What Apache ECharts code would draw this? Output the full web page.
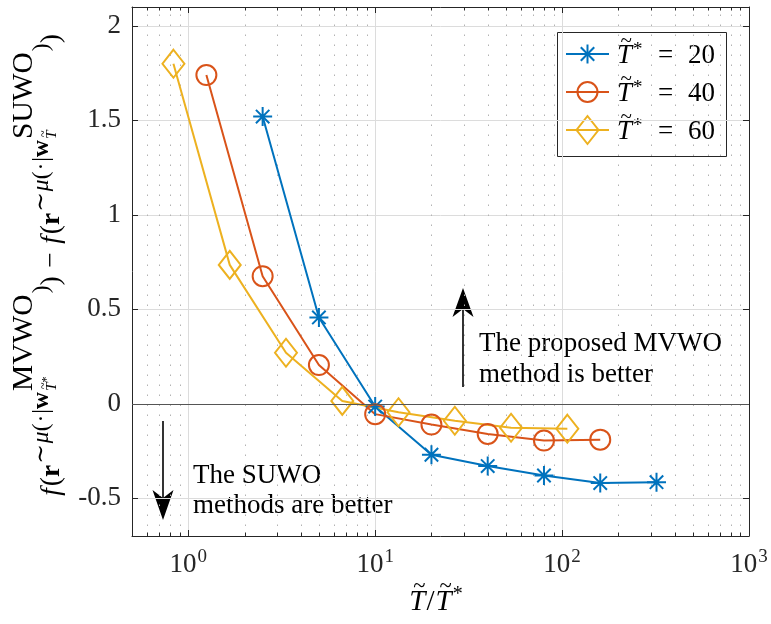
<!DOCTYPE html>
<html>
<head>
<meta charset="utf-8">
<script src="https://cdn.jsdelivr.net/npm/echarts@6/dist/echarts.min.js"></script>
<style>
  html, body { margin: 0; padding: 0; background: #fff; }
  #chart { width: 771px; height: 624px; }
</style>
</head>
<body>
<div id="chart"></div>
<script>
// Ratio T~/T~* on the x axis, f(MVWO) - f(SUWO) on the y axis, one list per T~*
const ratio20 = [2.5, 5, 10, 20, 40, 80, 160, 320];
const diff20  = [1.52, 0.457, -0.015, -0.27, -0.33, -0.38, -0.42, -0.415];
const ratio40 = [1.25, 2.5, 5, 10, 20, 40, 80, 160];
const diff40  = [1.74, 0.675, 0.205, -0.055, -0.11, -0.16, -0.195, -0.19];
const ratio60 = [0.833, 1.667, 3.333, 6.667, 13.33, 26.67, 53.33, 106.7];
const diff60  = [1.80, 0.735, 0.27, 0.015, -0.045, -0.09, -0.127, -0.132];
const legendValues = ['20', '40', '60'];

// axis ranges and tick layout
const X_MIN = 0.5, X_MAX = 1000;
const Y_MIN = -0.7, Y_MAX = 2.1;
const minorDecades = [0.1, 1, 10, 100];
const minorSteps = [2, 3, 4, 5, 6, 7, 8, 9];

const BLUE = '#0072BD', ORANGE = '#D95319', YELLOW = '#EDB120';
const AX = '#262626';
const SERIF = '"Liberation Serif","DejaVu Serif",serif';

const GRID = { left: 132, top: 7, right: 22, bottom: 88 };

// --- small text layout helper (math-like labels built from pieces) ---
const mctx = document.createElement('canvas').getContext('2d');
function fnt(sz, o) { o = o || {}; return (o.it ? 'italic ' : '') + (o.bold ? 'bold ' : '') + sz + 'px ' + SERIF; }
function tw(t, f) { mctx.font = f; return mctx.measureText(t).width; }
function Run(color) { this.pos = 0; this.els = []; this.color = color || '#000'; }
Run.prototype.put = function (t, sz, o) {
  o = o || {};
  const f = fnt(sz, o), w = tw(t, f);
  const x = (o.at != null ? o.at : this.pos) + (o.dx || 0);
  this.els.push({
    type: 'text', x: x, y: -(o.rise || 0) - 0.34 * sz,
    style: { text: t, font: f, fill: this.color, textAlign: 'left', textVerticalAlign: 'middle' }
  });
  this.pos = x + w;
  return { x: x, w: w };
};
Run.prototype.gap = function (px) { this.pos += px; return this; };
Run.prototype.tildeT = function (sz, rise, o) {
  o = o || {};
  const r = this.put('T', sz, { it: true, rise: rise || 0, at: o.at });
  const ts = sz * 0.78;
  this.els.push({
    type: 'text', x: r.x + r.w * 0.62, y: -((rise || 0) + 0.60 * sz) - 0.34 * ts,
    style: { text: '~', font: fnt(ts), fill: this.color, textAlign: 'center', textVerticalAlign: 'middle' }
  });
  return r;
};

// --- minor log ticks (2..9 per decade) inside the x range ---
const minorX = [];
minorDecades.forEach(function (d) {
  minorSteps.forEach(function (k) {
    const v = +(k * d).toPrecision(6);
    if (v > X_MIN && v < X_MAX) minorX.push([v, 0]);
  });
});

// marker shapes
const ASTERISK = 'path://M10,0L10,20M0,10L20,10M2.93,2.93L17.07,17.07M2.93,17.07L17.07,2.93';

function seriesOf(name, xs, ys, color, symbol, size) {
  return {
    type: 'line', name: name, xAxisIndex: 0, yAxisIndex: 0,
    data: xs.map(function (x, i) { return [x, ys[i]]; }),
    symbol: symbol, symbolSize: size, showAllSymbol: true,
    lineStyle: { color: color, width: 2 },
    itemStyle: { color: 'rgba(0,0,0,0)', borderColor: color, borderWidth: 2 },
    emphasis: { disabled: true }, silent: true, z: 3, clip: false
  };
}

// --- axis titles, legend and annotations ---
const graphics = [];

// x title: T~ / T~*
(function () {
  const r = new Run('#000');
  r.tildeT(29, 0); r.gap(1); r.put('/', 29); r.gap(1); r.tildeT(29, 0); r.gap(1); r.put('*', 20, { rise: 10 });
  graphics.push({ type: 'group', x: 436 - r.pos / 2, y: 612, children: r.els });
})();

// y title: f(r^{~mu(.|w^{MVWO}_{T~*})}) - f(r^{~mu(.|w^{SUWO}_{T~})})
(function () {
  const S = 27.5, s1 = 23.5, big = 29.5, sub = 15.5;
  const r1 = 11, r2 = 27, r3 = 4;
  const r = new Run('#000');
  function half(tag, star) {
    r.put('f', S, { it: true }); r.gap(2); r.put('(', S); r.put('r', S, { bold: true });
    r.gap(1);
    r.put('\u223C', s1, { rise: r1 }); r.gap(1); r.put('\u03BC', s1, { it: true, rise: r1 });
    r.put('(', s1, { rise: r1 }); r.gap(1); r.put('\u00B7', s1, { rise: r1 }); r.gap(1);
    r.put('|', s1, { rise: r1 }); r.put('w', s1, { bold: true, rise: r1 });
    const p0 = r.pos + 1;
    r.put(tag, big, { at: p0, rise: r2 });
    const p1 = r.pos;
    r.tildeT(sub, r3, { at: p0 });
    if (star) r.put('*', 12, { rise: r3 + 6 });
    r.pos = Math.max(p1, r.pos) + 1;
    r.put(')', s1, { rise: r1 }); r.put(')', S);
  }
  half('MVWO', true);
  r.gap(8.5); r.put('\u2212', S); r.gap(8.5);
  half('SUWO', false);
  graphics.push({ type: 'group', x: 61, y: 265 + r.pos / 2, rotation: Math.PI / 2, children: r.els });
})();

// legend
(function () {
  const items = [
    { color: BLUE, mark: 'star' }, { color: ORANGE, mark: 'circle' }, { color: YELLOW, mark: 'diamond' }
  ];
  const kids = [];
  kids.push({ type: 'rect', shape: { x: 557.5, y: 32.5, width: 169, height: 124 },
    style: { fill: '#fff', stroke: AX, lineWidth: 1 } });
  const rowY = [54, 92, 130];
  items.forEach(function (it, i) {
    const y = rowY[i], cx = 587.5;
    kids.push({ type: 'line', shape: { x1: 566, y1: y, x2: 609, y2: y }, style: { stroke: it.color, lineWidth: 2 } });
    if (it.mark === 'star') {
      const R = 9.5, d = R * 0.7071;
      [[0, -R, 0, R], [-R, 0, R, 0], [-d, -d, d, d], [-d, d, d, -d]].forEach(function (s) {
        kids.push({ type: 'line', shape: { x1: cx + s[0], y1: y + s[1], x2: cx + s[2], y2: y + s[3] },
          style: { stroke: it.color, lineWidth: 2 } });
      });
    } else if (it.mark === 'circle') {
      kids.push({ type: 'circle', shape: { cx: cx, cy: y, r: 10 }, style: { fill: 'none', stroke: it.color, lineWidth: 2 } });
    } else {
      kids.push({ type: 'polygon', shape: { points: [[cx, y - 14], [cx + 11, y], [cx, y + 14], [cx - 11, y]] },
        style: { fill: 'none', stroke: it.color, lineWidth: 2 } });
    }
    const r = new Run('#000');
    r.tildeT(27, 0); r.gap(1); r.put('*', 19, { rise: 9 });
    r.put('=', 27, { at: 41 }); r.put(legendValues[i], 27, { at: 71 });
    kids.push({ type: 'group', x: 617, y: y + 11, children: r.els });
  });
  graphics.push({ type: 'group', z: 100, children: kids });
})();

// annotations with arrows
(function () {
  function txt(t, x, base) {
    return { type: 'text', x: x, y: base - 0.34 * 27,
      style: { text: t, font: fnt(27), fill: '#000', textAlign: 'left', textVerticalAlign: 'middle' } };
  }
  graphics.push({ type: 'group', z: 90, children: [
    txt('The proposed MVWO', 479, 353),
    txt('method is better', 479, 384),
    txt('The SUWO', 193, 485),
    txt('methods are better', 193, 515),
    { type: 'line', shape: { x1: 463, y1: 387, x2: 463, y2: 305 }, style: { stroke: '#000', lineWidth: 1.6 } },
    { type: 'polygon', shape: { points: [[463, 288], [473.5, 317], [463, 309], [452.5, 317]] }, style: { fill: '#000' } },
    { type: 'line', shape: { x1: 163, y1: 421, x2: 163, y2: 503 }, style: { stroke: '#000', lineWidth: 1.6 } },
    { type: 'polygon', shape: { points: [[163, 520], [173.5, 490], [163, 498], [152.5, 490]] }, style: { fill: '#000' } }
  ] });
})();

const chart = echarts.init(document.getElementById('chart'), null, { renderer: 'canvas' });

const xLabelRich = {
  b: { fontFamily: SERIF, fontSize: 27, color: AX, lineHeight: 30, verticalAlign: 'bottom' },
  s: { fontFamily: SERIF, fontSize: 19, color: AX, lineHeight: 19, verticalAlign: 'top', padding: [0, 0, 0, 1] }
};

chart.setOption({
  animation: false,
  backgroundColor: '#fff',
  grid: GRID,
  xAxis: [{
    type: 'log', logBase: 10, min: X_MIN, max: X_MAX, position: 'bottom',
    axisLine: { show: true, onZero: false, lineStyle: { color: AX, width: 1 } },
    axisTick: { show: true, inside: true, length: 6, lineStyle: { color: AX, width: 1 } },
    axisLabel: {
      margin: 12, rich: xLabelRich,
      formatter: function (v) {
        const e = Math.round(Math.log10(v));
        if (Math.abs(v - Math.pow(10, e)) > 1e-9 * v) return '';
        return '{b|10}{s|' + e + '}';
      }
    },
    splitLine: { show: true, lineStyle: { color: '#dcdcdc', width: 1 } },
    minorTick: { show: false }, minorSplitLine: { show: false }
  }, {
    type: 'log', logBase: 10, min: X_MIN, max: X_MAX, position: 'top',
    axisLine: { show: true, onZero: false, lineStyle: { color: AX, width: 1 } },
    axisTick: { show: true, inside: true, length: 6, lineStyle: { color: AX, width: 1 } },
    axisLabel: { show: false }, splitLine: { show: false }
  }],
  yAxis: [{
    type: 'value', min: Y_MIN, max: Y_MAX, splitNumber: 5, position: 'left',
    axisLine: { show: true, onZero: false, lineStyle: { color: AX, width: 1 } },
    axisTick: { show: true, inside: true, length: 6, lineStyle: { color: AX, width: 1 } },
    axisLabel: {
      margin: 11, fontFamily: SERIF, fontSize: 27, color: AX,
      formatter: function (v) {
        const r = Math.round(v * 2) / 2;
        if (Math.abs(v - r) > 1e-6) return '';
        return String(r);
      }
    },
    splitLine: { show: true, lineStyle: { color: '#dcdcdc', width: 1 } }
  }, {
    type: 'value', min: Y_MIN, max: Y_MAX, splitNumber: 5, position: 'right',
    axisLine: { show: true, onZero: false, lineStyle: { color: AX, width: 1 } },
    axisTick: { show: true, inside: true, length: 6, lineStyle: { color: AX, width: 1 } },
    axisLabel: { show: false }, splitLine: { show: false }
  }],
  graphic: { elements: graphics },
  series: [
    {
      // dotted minor grid with small minor ticks on both x axes, plus the y = 0 line
      type: 'custom', xAxisIndex: 0, yAxisIndex: 0, silent: true, z: 1,
      data: minorX, encode: { x: 0, y: 1 },
      renderItem: function (params, api) {
        const v = api.value(0);
        const pb = api.coord([v, Y_MIN]);
        const pt = api.coord([v, Y_MAX]);
        const x = Math.round(pb[0]) + 0.5;
        return { type: 'group', children: [
          { type: 'line', shape: { x1: x, y1: pb[1], x2: x, y2: pt[1] },
            style: { stroke: '#b3b3b3', lineWidth: 1, lineDash: [1.5, 8.5] } },
          { type: 'line', shape: { x1: x, y1: pb[1], x2: x, y2: pb[1] - 3.5 }, style: { stroke: AX, lineWidth: 1 } },
          { type: 'line', shape: { x1: x, y1: pt[1], x2: x, y2: pt[1] + 3.5 }, style: { stroke: AX, lineWidth: 1 } }
        ] };
      },
      markLine: {
        silent: true, symbol: ['none', 'none'], label: { show: false },
        lineStyle: { color: '#555', width: 1, type: 'solid' },
        data: [{ yAxis: 0 }]
      }
    },
    seriesOf('T20', ratio20, diff20, BLUE, ASTERISK, 19),
    seriesOf('T40', ratio40, diff40, ORANGE, 'circle', 20),
    seriesOf('T60', ratio60, diff60, YELLOW, 'diamond', [22, 28])
  ]
});
</script>
</body>
</html>
